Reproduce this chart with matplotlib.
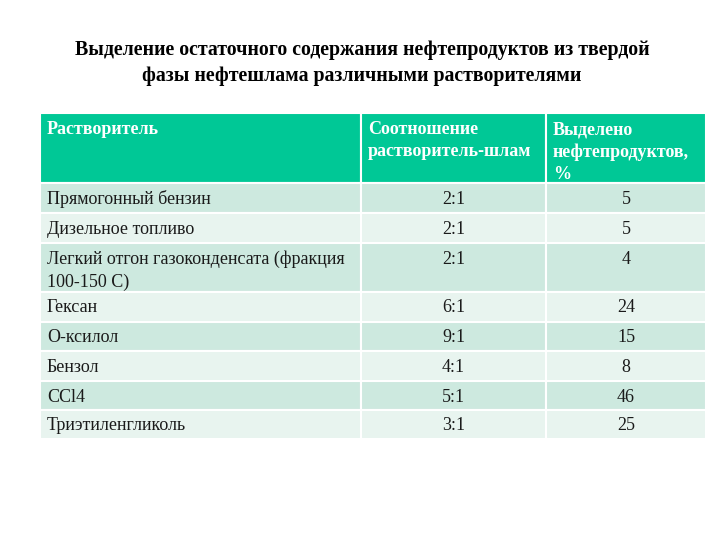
import matplotlib.pyplot as plt
from matplotlib.patches import Rectangle

plt.rcParams['font.family'] = ['Liberation Serif', 'DejaVu Serif']

title = ("Выделение остаточного содержания нефтепродуктов из твердой\n"
         "фазы нефтешлама различными растворителями")

headers = ["Растворитель",
           "Соотношение\nрастворитель-шлам",
           "Выделено\nнефтепродуктов,\n%"]

solvents = ["Прямогонный бензин",
            "Дизельное топливо",
            "Легкий отгон газоконденсата (фракция\n100-150 С)",
            "Гексан",
            "О-ксилол",
            "Бензол",
            "CCl4",
            "Триэтиленгликоль"]
ratios = ["2:1", "2:1", "2:1", "6:1", "9:1", "4:1", "5:1", "3:1"]
extracted = [5, 5, 4, 24, 15, 8, 46, 25]

# ---------------------------------------------------------------------------
# Layout (pixels, figure is 720x540)
# ---------------------------------------------------------------------------
col_x = [40, 361, 546, 706]
header_top, header_bot = 113, 183
row_heights = [30, 30, 49, 30, 29, 30, 29, 29]

header_color = "#00C896"
row_colors = ["#CDE9DF", "#E8F4EF"]

fig = plt.figure(figsize=(7.2, 5.4), dpi=100)
ax = fig.add_axes([0, 0, 1, 1])
ax.set_xlim(0, 720)
ax.set_ylim(540, 0)
ax.axis("off")

ax.text(362, 63, title, ha="center", va="center", fontsize=14.3,
        fontweight="bold", linespacing=1.35)

fs = 13
ls = 1.4

# Header
for i, h in enumerate(headers):
    x0, x1 = col_x[i], col_x[i + 1]
    ax.add_patch(Rectangle((x0, header_top), x1 - x0, header_bot - header_top,
                           facecolor=header_color, edgecolor="white", lw=1.5))
    ax.text(x0 + 7, header_top + 8, h, ha="left", va="top", fontsize=fs,
            fontweight="bold", color="white", linespacing=ls)

# Body rows
y = header_bot
for r in range(len(solvents)):
    h = row_heights[r]
    color = row_colors[r % 2]
    for i in range(3):
        x0, x1 = col_x[i], col_x[i + 1]
        ax.add_patch(Rectangle((x0, y), x1 - x0, h, facecolor=color,
                               edgecolor="white", lw=1.5))
    ax.text(col_x[0] + 7, y + 7.5, solvents[r], ha="left", va="top",
            fontsize=fs, color="#1a1a1a", linespacing=ls)
    ax.text((col_x[1] + col_x[2]) / 2, y + 7.5, ratios[r], ha="center",
            va="top", fontsize=fs, color="#1a1a1a")
    ax.text((col_x[2] + col_x[3]) / 2, y + 7.5, str(extracted[r]), ha="center",
            va="top", fontsize=fs, color="#1a1a1a")
    y += h

fig.savefig("out.png", dpi=100)
